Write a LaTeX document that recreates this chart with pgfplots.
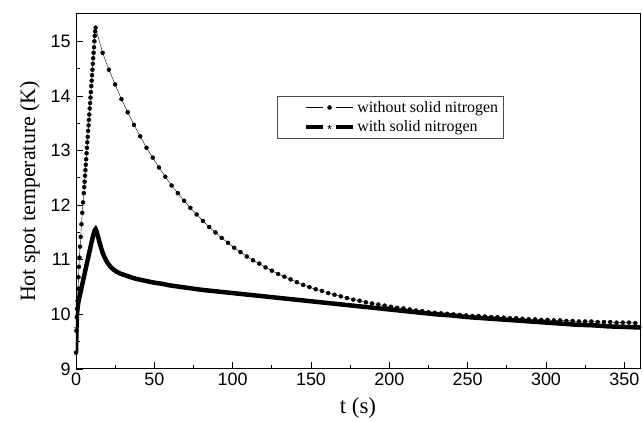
\documentclass[border=0pt]{standalone}
\usepackage{fontspec}
\setmainfont{Liberation Serif}
\newfontfamily\arial{Liberation Sans}
\usepackage{pgfplots}
\pgfplotsset{compat=1.18}

\begin{document}
\begin{tikzpicture}
\begin{axis}[
    scale only axis,
    width=564bp, height=355bp,
    xmin=0, xmax=360, ymin=9, ymax=15.5,
    xtick={0,50,...,350}, ytick={9,10,...,15},
    minor x tick num=1, minor y tick num=1,
    xtick pos=left, ytick pos=left,
    tick align=inside,
    major tick length=7bp, minor tick length=4bp,
    axis line style={line width=1pt},
    every tick/.style={line width=0.8pt, black},
    tick label style={font=\arial\fontsize{18}{18}\selectfont},
    yticklabel style={xshift=-2bp},
    /pgf/number format/assume math mode=true,
    xlabel={t (s)},
    ylabel={Hot spot temperature (K)},
    xlabel style={font=\fontsize{23}{26}\selectfont, at={(axis description cs:0.5,-0.11)}, anchor=center},
    ylabel style={font=\fontsize{22}{25}\selectfont, at={(axis description cs:-0.0816,0.5)}, anchor=center},
    legend cell align=left,
    legend style={at={(rel axis cs:0.356,0.769)}, anchor=north west,
        draw=black!70, line width=0.5pt, font=\fontsize{16}{18}\selectfont,
        row sep=3bp, inner xsep=3bp, inner ysep=3bp},
    legend image code/.code={
        \path[draw=none, fill=none] (-26bp,0bp) -- (47bp,0bp);
        \draw[#1,mark=none] (0bp,0bp) -- (17bp,0bp);
        \draw[#1,mark=none] (30bp,0bp) -- (47bp,0bp);
        \draw[#1,only marks] plot coordinates {(23.5bp,0bp)};
    },
]

% without solid nitrogen
\addplot[black, line width=0.4pt, mark=*, mark size=2pt, mark options={solid}]
    table {
        0 9.3
        0.25 9.7
        0.5 9.95
        0.75 10.1
        1.0 10.25
        1.3 10.47
        1.6 10.68
        1.9 10.87
        2.2 11.04
        2.6 11.24
        3.0 11.42
        3.5 11.65
        4.0 11.86
        4.5 12.05
        5.0 12.22
        5.25 12.33
        5.5 12.43
        5.75 12.54
        6.0 12.64
        6.25 12.74
        6.5 12.84
        6.75 12.95
        7.0 13.05
        7.25 13.15
        7.5 13.25
        7.75 13.36
        8.0 13.46
        8.25 13.56
        8.5 13.66
        8.75 13.77
        9.0 13.87
        9.25 13.97
        9.5 14.07
        9.75 14.18
        10.0 14.28
        10.25 14.38
        10.5 14.48
        10.75 14.59
        11.0 14.69
        11.25 14.79
        11.5 14.89
        11.75 15.0
        12.0 15.1
        12.25 15.18
        12.5 15.25
        17 14.79
        21 14.48
        25 14.21
        29 13.94
        33 13.70
        37 13.47
        41 13.26
        45 13.05
        49 12.87
        53 12.69
        57 12.52
        61 12.36
        65 12.22
        69 12.08
        73 11.95
        77 11.83
        81 11.71
        85 11.60
        89 11.50
        93 11.40
        97 11.31
        101 11.22
        105 11.14
        109 11.06
        113 10.99
        117 10.93
        121 10.86
        125 10.80
        129 10.74
        133 10.69
        137 10.64
        141 10.59
        145 10.54
        149 10.50
        153 10.46
        157 10.43
        161 10.39
        165 10.36
        169 10.33
        173 10.30
        177 10.27
        181 10.25
        185 10.22
        189 10.20
        193 10.18
        197 10.16
        201 10.14
        205 10.12
        209 10.11
        213 10.09
        217 10.07
        221 10.06
        225 10.04
        229 10.03
        233 10.02
        237 10.01
        241 10.00
        245 9.99
        249 9.98
        253 9.97
        257 9.97
        261 9.96
        265 9.95
        269 9.95
        273 9.94
        277 9.93
        281 9.93
        285 9.92
        289 9.91
        293 9.91
        297 9.90
        301 9.90
        305 9.89
        309 9.89
        313 9.88
        317 9.88
        321 9.87
        325 9.87
        329 9.87
        333 9.86
        337 9.86
        341 9.86
        345 9.85
        349 9.85
        353 9.85
        357 9.84
    };
\addlegendentry{without solid nitrogen}

% with solid nitrogen
\addplot[black, line width=4.5pt, mark=star, mark size=2pt, mark options={solid, line width=0.6pt}]
    table {
        0 9.3
        0.3 9.75
        0.6 9.98
        1 10.12
        1.5 10.22
        2 10.29
        3 10.42
        4 10.55
        5 10.68
        6 10.81
        7 10.94
        8 11.07
        9 11.20
        10 11.33
        11 11.45
        12 11.54
        12.5 11.56
        13 11.53
        14 11.43
        15 11.32
        16 11.22
        17 11.13
        18 11.06
        19 11.00
        20 10.95
        22 10.87
        24 10.82
        26 10.78
        28 10.75
        30 10.73
        33 10.70
        36 10.67
        40 10.64
        45 10.61
        50 10.58
        55 10.56
        60 10.53
        70 10.49
        80 10.45
        90 10.42
        100 10.39
        110 10.36
        120 10.33
        130 10.30
        140 10.27
        150 10.24
        160 10.21
        170 10.18
        180 10.15
        190 10.12
        200 10.09
        210 10.06
        220 10.03
        230 10.00
        240 9.98
        250 9.95
        260 9.93
        270 9.91
        280 9.89
        290 9.87
        300 9.85
        310 9.83
        320 9.81
        330 9.80
        340 9.78
        350 9.77
        360 9.76
    };
\addlegendentry{with solid nitrogen}

\end{axis}
\path ([xshift=-76bp,yshift=-53bp]current axis.south west) rectangle ([xshift=3bp,yshift=14bp]current axis.north east);
\end{tikzpicture}
\end{document}
